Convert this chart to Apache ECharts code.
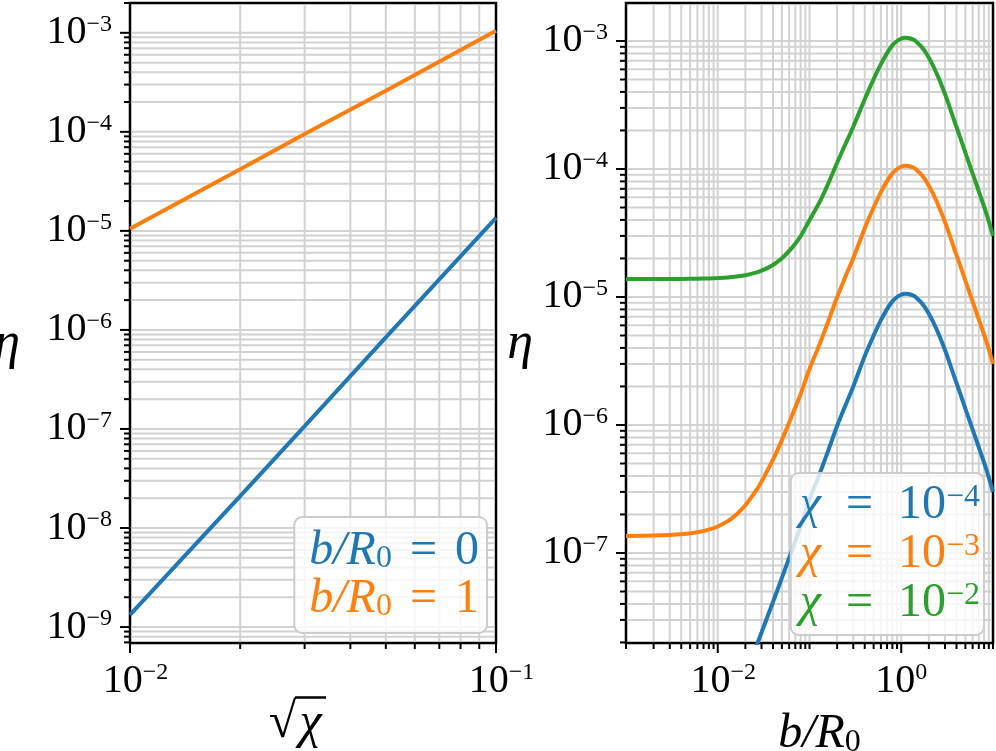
<!DOCTYPE html>
<html>
<head>
<meta charset="utf-8">
<script src="https://cdn.jsdelivr.net/npm/echarts@6/dist/echarts.min.js"></script>
<style>
  html, body { margin: 0; padding: 0; background: #fff; }
  #main { width: 996px; height: 751px; }
</style>
</head>
<body>
<div id="main"></div>
<script>
// left panel: eta against sqrt(chi)
const sqrtChi = [0.01, 0.02, 0.03, 0.05, 0.1]
const etaB0 = [1.33e-9, 2.1e-8, 1.07e-7, 8.4e-7, 1.35e-5]
const etaB1 = [1.05e-5, 4.2e-5, 9.5e-5, 2.6e-4, 1.05e-3]

// right panel: eta against b/R0
const bR0 = [0.001, 0.002, 0.004, 0.006, 0.008, 0.01, 0.013, 0.016, 0.02, 0.026, 0.03, 0.04, 0.05,
  0.065, 0.08, 0.1, 0.13, 0.16, 0.2, 0.25, 0.3, 0.4, 0.5, 0.6, 0.7, 0.8, 0.9, 1.0, 1.1, 1.2,
  1.35, 1.5, 1.7, 2.0, 2.4, 3.0, 3.7, 4.5, 5.5, 7.0, 8.5, 10]
const etaChi4 = [1.39e-9, 1.46e-9, 1.76e-9, 2.26e-9, 2.96e-9, 3.86e-9, 5.56e-9, 7.76e-9, 1.14e-8,
  1.83e-8, 2.39e-8, 4.14e-8, 6.39e-8, 1.07e-7, 1.61e-7, 2.61e-7, 4.21e-7, 6.31e-7, 9.81e-7,
  1.46e-6, 2.0e-6, 3.45e-6, 5.0e-6, 6.59e-6, 8.04e-6, 9.24e-6, 1.0e-5, 1.045e-5, 1.06e-5, 1.055e-5,
  1.025e-5, 9.7e-6, 8.85e-6, 7.4e-6, 5.7e-6, 3.85e-6, 2.5e-6, 1.67e-6, 1.1e-6, 6.7e-7, 4.45e-7, 3.0e-7]
const etaChi3 = [1.36e-7, 1.37e-7, 1.40e-7, 1.45e-7, 1.52e-7, 1.61e-7, 1.78e-7, 2.0e-7, 2.36e-7,
  3.05e-7, 3.61e-7, 5.36e-7, 7.61e-7, 1.2e-6, 1.74e-6, 2.74e-6, 4.34e-6, 6.44e-6, 9.94e-6,
  1.48e-5, 2.01e-5, 3.45e-5, 5.0e-5, 6.59e-5, 8.04e-5, 9.24e-5, 1.0e-4, 1.045e-4, 1.06e-4, 1.055e-4,
  1.025e-4, 9.7e-5, 8.85e-5, 7.4e-5, 5.7e-5, 3.85e-5, 2.5e-5, 1.67e-5, 1.1e-5, 6.7e-6, 4.45e-6, 3.0e-6]
const etaChi2 = [1.38e-5, 1.38e-5, 1.384e-5, 1.389e-5, 1.396e-5, 1.405e-5, 1.42e-5, 1.444e-5, 1.48e-5,
  1.55e-5, 1.605e-5, 1.78e-5, 2.005e-5, 2.44e-5, 2.98e-5, 3.98e-5, 5.58e-5, 7.68e-5, 1.118e-4,
  1.6e-4, 2.14e-4, 3.51e-4, 5.04e-4, 6.59e-4, 8.04e-4, 9.24e-4, 1.0e-3, 1.045e-3, 1.06e-3, 1.055e-3,
  1.025e-3, 9.7e-4, 8.85e-4, 7.4e-4, 5.7e-4, 3.85e-4, 2.5e-4, 1.67e-4, 1.1e-4, 6.7e-5, 4.45e-5, 3.0e-5]

const leftNames = ['b/R0 = 0', 'b/R0 = 1']
const rightNames = ['chi = 1e-4', 'chi = 1e-3', 'chi = 1e-2']
const rightExp = [-4, -3, -2]

const FONT = '"Liberation Serif", "DejaVu Serif", serif'
const C_BLUE = '#1f77b4'
const C_ORANGE = '#ff7f0e'
const C_GREEN = '#2ca02c'

const pairs = (xs, ys) => xs.map((x, i) => [x, ys[i]])
const minus = e => (e < 0 ? '\u2212' + Math.abs(e) : String(e))

// 10^k tick labels, only on whole decades
function decadeLabel(onlyEven, shift) {
  return function(v) {
    const lg = Math.log10(v)
    const e = Math.round(lg)
    if (Math.abs(lg - e) > 1e-6) return ''
    if (onlyEven && e % 2 !== 0) return ''
    const pre = shift && e < 0 ? '{sp| }' : ''
    return pre + '{b|10}{s|' + minus(e) + '}'
  }
}
const tickRich = {
  b: { fontFamily: FONT, fontSize: 40, color: '#000' },
  s: { fontFamily: FONT, fontSize: 24, color: '#000', verticalAlign: 'top' },
  sp: { width: 11 }
}

// gridlines at 1..9 x 10^k plus the outside tick marks
function decoItems(xMin, xMax, yMin, yMax, xMajor) {
  const items = []
  const xRef = Math.sqrt(xMin * xMax)
  const yRef = Math.sqrt(yMin * yMax)
  for (let k = Math.floor(Math.log10(xMin)); k <= Math.ceil(Math.log10(xMax)); k++) {
    for (let m = 1; m < 10; m++) {
      const v = m * Math.pow(10, k)
      if (v < xMin * 0.999 || v > xMax * 1.001) continue
      items.push({ value: [v, yRef], dir: 0, major: m === 1 && xMajor(k) })
    }
  }
  for (let k = Math.floor(Math.log10(yMin)); k <= Math.ceil(Math.log10(yMax)); k++) {
    for (let m = 1; m < 10; m++) {
      const v = m * Math.pow(10, k)
      if (v < yMin * 0.999 || v > yMax * 1.001) continue
      items.push({ value: [xRef, v], dir: 1, major: m === 1 })
    }
  }
  return items
}
function decoRender(items) {
  return function(params, api) {
    const it = items[params.dataIndex]
    const cs = params.coordSys
    const p = api.coord(it.value)
    const len = it.major ? 10 : 6
    const children = []
    const gridStyle = { stroke: '#d2d2d2', lineWidth: 2 }
    const tickStyle = { stroke: '#000', lineWidth: 2 }
    if (it.dir === 0) {
      const x = p[0]
      if (x > cs.x + 2 && x < cs.x + cs.width - 2) {
        children.push({ type: 'line', shape: { x1: x, y1: cs.y + 1.5, x2: x, y2: cs.y + cs.height - 1.5 }, style: gridStyle })
      }
      children.push({ type: 'line', shape: { x1: x, y1: cs.y + cs.height, x2: x, y2: cs.y + cs.height + len }, style: tickStyle })
    } else {
      const y = p[1]
      if (y > cs.y + 2 && y < cs.y + cs.height - 2) {
        children.push({ type: 'line', shape: { x1: cs.x + 1.5, y1: y, x2: cs.x + cs.width - 1.5, y2: y }, style: gridStyle })
      }
      children.push({ type: 'line', shape: { x1: cs.x - len, y1: y, x2: cs.x, y2: y }, style: tickStyle })
    }
    return { type: 'group', children: children }
  }
}

const L = { xMin: 0.01, xMax: 0.1, yMin: 6.9e-10, yMax: 2.0e-3 }
const R = { xMin: 0.001, xMax: 10, yMin: 1.98e-8, yMax: 1.98e-3 }
const leftDeco = decoItems(L.xMin, L.xMax, L.yMin, L.yMax, () => true)
const rightDeco = decoItems(R.xMin, R.xMax, R.yMin, R.yMax, k => k % 2 === 0)

const myChart = echarts.init(document.getElementById('main'), null, { renderer: 'canvas' })

function xAxisOf(idx, lim, onlyEven, name, nameRich, gap) {
  return {
    type: 'log', logBase: 10, gridIndex: idx, min: lim.xMin, max: lim.xMax,
    axisLine: { show: false }, axisTick: { show: false }, splitLine: { show: false },
    axisLabel: { formatter: decadeLabel(onlyEven, true), rich: tickRich, margin: 18, showMinLabel: true, showMaxLabel: true },
    name: name, nameLocation: 'middle', nameGap: gap, nameMoveOverlap: false,
    nameTextStyle: { rich: nameRich }
  }
}
function yAxisOf(idx, lim, gap) {
  return {
    type: 'log', logBase: 10, gridIndex: idx, min: lim.yMin, max: lim.yMax,
    axisLine: { show: false }, axisTick: { show: false }, splitLine: { show: false },
    axisLabel: { formatter: decadeLabel(false, false), rich: tickRich, margin: 18 },
    name: '{e|\u03b7}', nameLocation: 'middle', nameRotate: 0, nameGap: gap, nameMoveOverlap: false,
    nameTextStyle: { rich: { e: { fontFamily: FONT, fontStyle: 'italic', fontSize: 52, color: '#000', padding: [42, 0, 0, 0] } } }
  }
}

// sqrt(chi): radical plus a bar drawn as a thin filled box on the line above
const sqrtRich = {
  sp: { width: 25, height: 2.5, lineHeight: 3 },
  bar: { width: 31, height: 2.5, lineHeight: 3, backgroundColor: '#000' },
  r: { fontFamily: FONT, fontSize: 50, lineHeight: 50, width: 25, color: '#000' },
  i: { fontFamily: FONT, fontStyle: 'italic', fontSize: 50, lineHeight: 50, width: 31, color: '#000' },
  tail: { width: 30, height: 2.5, lineHeight: 3 }
}
const bRich = {
  lead: { width: 20 },
  i: { fontFamily: FONT, fontStyle: 'italic', fontSize: 48, lineHeight: 50, color: '#000' },
  sub: { fontFamily: FONT, fontSize: 32, color: '#000', verticalAlign: 'bottom', lineHeight: 30 }
}

const legendRich = {
  i: { fontFamily: FONT, fontStyle: 'italic', fontSize: 48, lineHeight: 47 },
  r: { fontFamily: FONT, fontSize: 48, lineHeight: 47 },
  g: { width: 18, lineHeight: 47 },
  gw: { width: 25, lineHeight: 47 },
  sub: { fontFamily: FONT, fontSize: 32, verticalAlign: 'bottom', lineHeight: 28 },
  sup: { fontFamily: FONT, fontSize: 32, verticalAlign: 'top', lineHeight: 28 }
}

const option = {
  animation: false,
  backgroundColor: '#fff',
  grid: [
    { left: 130, top: 3, width: 366, height: 640, show: true, borderColor: '#000', borderWidth: 2.5, backgroundColor: 'transparent', outerBoundsMode: 'none' },
    { left: 626, top: 3, width: 367, height: 640, show: true, borderColor: '#000', borderWidth: 2.5, backgroundColor: 'transparent', outerBoundsMode: 'none' }
  ],
  xAxis: [
    xAxisOf(0, L, false, '{sp| }{bar| }{tail| }\n{r|\u221a}{i|\u03c7}{tail| }', sqrtRich, 53),
    xAxisOf(1, R, true, '{lead| }{i|b/R}{sub|0}', bRich, 66)
  ],
  yAxis: [yAxisOf(0, L, 110), yAxisOf(1, R, 93)],
  legend: [
    {
      data: [
        { name: leftNames[0], textStyle: { color: C_BLUE } },
        { name: leftNames[1], textStyle: { color: C_ORANGE } }
      ],
      orient: 'vertical', right: 509, bottom: 118, icon: 'none', itemWidth: 0, itemHeight: 0, itemGap: 0,
      selectedMode: false,
      padding: [10, 8, 10, 10],
      backgroundColor: 'rgba(255,255,255,0.8)', borderColor: '#cccccc', borderWidth: 2, borderRadius: 8,
      formatter: function(name) {
        const v = name.slice(-1)
        return '{i|b/R}{sub|0}{g| }{r|=}{g| }{r|' + v + '}'
      },
      textStyle: { rich: legendRich }
    },
    {
      data: [
        { name: rightNames[0], textStyle: { color: C_BLUE } },
        { name: rightNames[1], textStyle: { color: C_ORANGE } },
        { name: rightNames[2], textStyle: { color: C_GREEN } }
      ],
      orient: 'vertical', right: 12, bottom: 116, icon: 'none', itemWidth: 0, itemHeight: 0, itemGap: 1,
      selectedMode: false,
      padding: [8, 4, 8, 4],
      backgroundColor: 'rgba(255,255,255,0.8)', borderColor: '#cccccc', borderWidth: 2, borderRadius: 8,
      formatter: function(name) {
        const e = rightExp[rightNames.indexOf(name)]
        return '{i|\u03c7}{gw| }{r|=}{gw| }{r|10}{sup|' + minus(e) + '}'
      },
      textStyle: { rich: legendRich }
    }
  ],
  series: [
    {
      type: 'custom', xAxisIndex: 0, yAxisIndex: 0, z: 1, silent: true,
      renderItem: decoRender(leftDeco), data: leftDeco.map(d => d.value)
    },
    {
      type: 'custom', xAxisIndex: 1, yAxisIndex: 1, z: 1, silent: true,
      renderItem: decoRender(rightDeco), data: rightDeco.map(d => d.value)
    },
    {
      name: leftNames[0], type: 'line', xAxisIndex: 0, yAxisIndex: 0, z: 3,
      data: pairs(sqrtChi, etaB0), showSymbol: false, symbol: 'none',
      lineStyle: { color: C_BLUE, width: 4 }, itemStyle: { color: C_BLUE }
    },
    {
      name: leftNames[1], type: 'line', xAxisIndex: 0, yAxisIndex: 0, z: 3,
      data: pairs(sqrtChi, etaB1), showSymbol: false, symbol: 'none',
      lineStyle: { color: C_ORANGE, width: 4 }, itemStyle: { color: C_ORANGE }
    },
    {
      name: rightNames[0], type: 'line', xAxisIndex: 1, yAxisIndex: 1, z: 3, smooth: 0.3,
      data: pairs(bR0, etaChi4), showSymbol: false, symbol: 'none',
      lineStyle: { color: C_BLUE, width: 4 }, itemStyle: { color: C_BLUE }
    },
    {
      name: rightNames[1], type: 'line', xAxisIndex: 1, yAxisIndex: 1, z: 3, smooth: 0.3,
      data: pairs(bR0, etaChi3), showSymbol: false, symbol: 'none',
      lineStyle: { color: C_ORANGE, width: 4 }, itemStyle: { color: C_ORANGE }
    },
    {
      name: rightNames[2], type: 'line', xAxisIndex: 1, yAxisIndex: 1, z: 3, smooth: 0.3,
      data: pairs(bR0, etaChi2), showSymbol: false, symbol: 'none',
      lineStyle: { color: C_GREEN, width: 4 }, itemStyle: { color: C_GREEN }
    }
  ]
}

myChart.setOption(option)
</script>
</body>
</html>
